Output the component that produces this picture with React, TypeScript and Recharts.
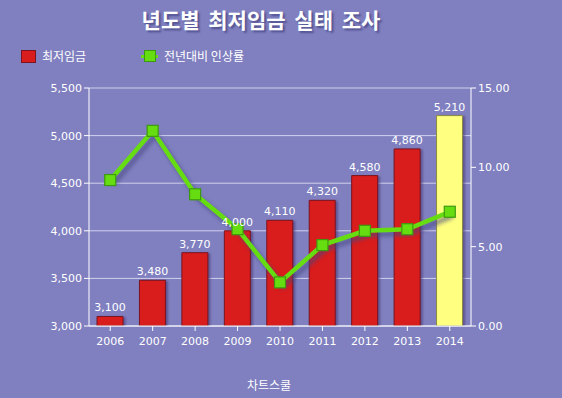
import {
  Bar,
  CartesianGrid,
  Cell,
  ComposedChart,
  LabelList,
  Line,
  XAxis,
  YAxis,
} from "recharts";

// 년도별 최저임금 (원) + 전년대비 인상률 (%)
const years = ["2006", "2007", "2008", "2009", "2010", "2011", "2012", "2013", "2014"];
const wages = [3100, 3480, 3770, 4000, 4110, 4320, 4580, 4860, 5210];
const raiseRates = [9.2, 12.3, 8.3, 6.1, 2.75, 5.1, 6.0, 6.1, 7.2];
const wageTicks = [3000, 3500, 4000, 4500, 5000, 5500];
const rateTicks = [0, 5, 10, 15];

const W = 562;
const H = 398;
const BG = "#8080c0";
const RED = "#d91c1c";
const RED_EDGE = "#7a1420";
const YELLOW = "#ffff80";
const YELLOW_EDGE = "#8a8a40";
const GREEN = "#66dd11";
const GREEN_EDGE = "#3d9a10";
const FONT = "'DejaVu Sans', Tahoma, sans-serif";
const KFONT = "'Noto Sans CJK KR', 'DejaVu Sans', sans-serif";

const rows = years.map((y, i) => ({ year: y, wage: wages[i], rate: raiseRates[i] }));

function SquareDot(props: any) {
  const { cx, cy } = props;
  if (cx == null || cy == null) return null;
  return (
    <rect
      x={cx - 5.5}
      y={cy - 5.5}
      width={11}
      height={11}
      fill={GREEN}
      stroke={GREEN_EDGE}
      strokeWidth={1.2}
    />
  );
}

export default function App() {
  return (
    <div
      style={{
        position: "relative",
        width: W,
        height: H,
        background: BG,
        overflow: "hidden",
      }}
    >
      <style>{`body { margin: 0; }`}</style>
      <div
        style={{
          position: "absolute",
          top: 4,
          left: -20,
          width: W,
          textAlign: "center",
          color: "#fff",
          fontFamily: KFONT,
          fontWeight: 700,
          fontSize: 21,
          wordSpacing: 4,
          textShadow: "2px 2px 2px #505090",
        }}
      >
        년도별 최저임금 실태 조사
      </div>

      <div style={{ position: "absolute", top: 46, left: 0, width: W, height: 20, fontFamily: KFONT, fontSize: 12, color: "#fff" }}>
        <span style={{ position: "absolute", left: 21, top: 4, width: 13, height: 11, background: RED, border: `1px solid ${RED_EDGE}` }} />
        <span style={{ position: "absolute", left: 42, top: 1 }}>최저임금</span>
        <span style={{ position: "absolute", left: 141, top: 9, width: 17, height: 3, background: GREEN }} />
        <span style={{ position: "absolute", left: 144, top: 4, width: 10, height: 10, background: GREEN, border: `1px solid ${GREEN_EDGE}` }} />
        <span style={{ position: "absolute", left: 164, top: 1 }}>전년대비 인상률</span>
      </div>

      <ComposedChart
        width={W}
        height={H}
        data={rows}
        margin={{ top: 88, right: 31, bottom: 42, left: 29 }}
      >
        <CartesianGrid yAxisId="left" vertical={false} stroke="#d0d0ee" strokeWidth={1} />
        <XAxis
          dataKey="year"
          height={30}
          stroke="#fff"
          tickLine={{ stroke: "#fff" }}
          tickSize={5}
          tick={{ fill: "#fff", fontSize: 11, fontFamily: FONT }}
          tickMargin={6}
        />
        <YAxis
          yAxisId="left"
          width={60}
          domain={[3000, 5500]}
          ticks={wageTicks}
          stroke="#fff"
          tickSize={5}
          tick={{ fill: "#fff", fontSize: 11, fontFamily: FONT }}
          tickFormatter={(v: number) => v.toLocaleString("en-US")}
          allowDataOverflow
        />
        <YAxis
          yAxisId="right"
          orientation="right"
          width={60}
          domain={[0, 15]}
          ticks={rateTicks}
          stroke="#fff"
          tickSize={5}
          tick={{ fill: "#fff", fontSize: 11, fontFamily: FONT }}
          tickFormatter={(v: number) => v.toFixed(2)}
        />
        <Bar
          yAxisId="left"
          dataKey="wage"
          barSize={26}
          isAnimationActive={false}
          strokeWidth={1}
          style={{ filter: "drop-shadow(2px 1px 1px rgba(70,50,110,0.6))" }}
        >
          {rows.map((r, i) => (
            <Cell
              key={r.year}
              fill={i === rows.length - 1 ? YELLOW : RED}
              stroke={i === rows.length - 1 ? YELLOW_EDGE : RED_EDGE}
            />
          ))}
          <LabelList
            dataKey="wage"
            position="top"
            offset={5}
            fill="#fff"
            fontSize={11}
            fontFamily={FONT}
            formatter={(v: any) => Number(v).toLocaleString("en-US")}
          />
        </Bar>
        <Line
          yAxisId="right"
          dataKey="rate"
          type="linear"
          stroke={GREEN}
          strokeWidth={4.5}
          dot={<SquareDot />}
          activeDot={false}
          isAnimationActive={false}
          style={{ filter: "drop-shadow(3px 4px 2px rgba(70,70,130,0.7))" }}
        />
      </ComposedChart>

      <div
        style={{
          position: "absolute",
          top: 376,
          left: 247,
          color: "#fff",
          fontFamily: KFONT,
          fontSize: 12,
        }}
      >
        차트스쿨
      </div>
    </div>
  );
}
